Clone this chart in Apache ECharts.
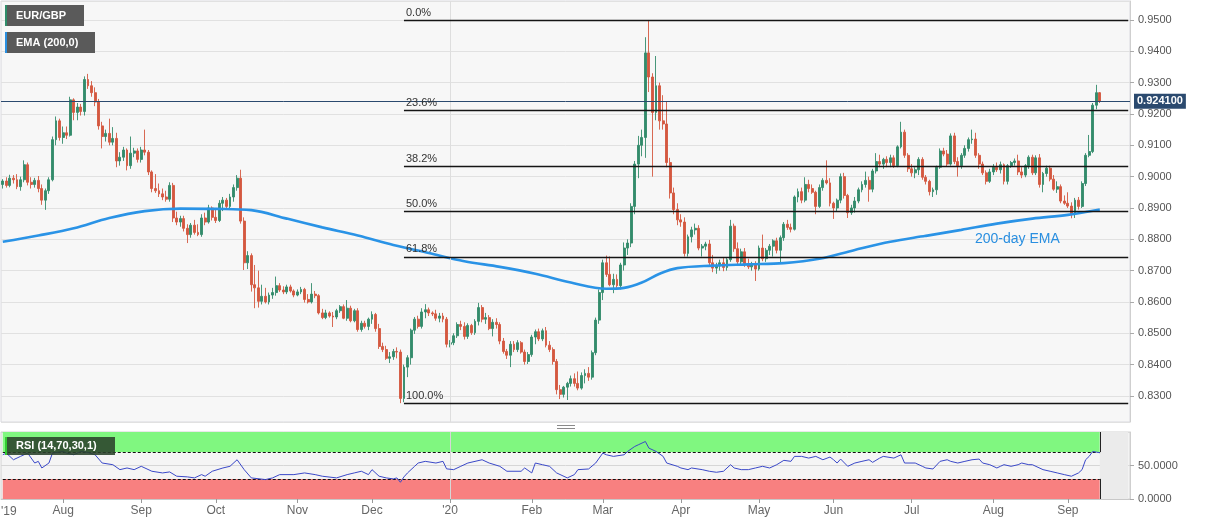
<!DOCTYPE html>
<html><head><meta charset="utf-8">
<script src="https://cdn.jsdelivr.net/npm/echarts/dist/echarts.min.js"></script>
<style>html,body{margin:0;padding:0;background:#fff}#c{width:1207px;height:526px}</style>
</head><body><div id="c"></div>
<script>
const startDate = '2019-07-09';
const futureDays = 8;
const opens = [
.8975,.8986,.8972,.8995,.8990,.8968,.8990,.9038,.8982,.8975,
.8988,.8962,.8925,.8955,.8990,.9118,.9178,.9125,.9140,.9132,
.9245,.9205,.9222,.9208,.9310,.9290,.9268,.9238,.9162,.9128,
.9138,.9110,.9122,.9050,.9062,.9085,.9035,.9075,.9082,.9055,
.9085,.9078,.9015,.8962,.8955,.8945,.8935,.8928,.8972,.8868,
.8855,.8866,.8835,.8815,.8845,.8822,.8815,.8868,.8855,.8900,
.8870,.8860,.8915,.8925,.8905,.8935,.8965,.8995,.8858,.8725,
.8748,.8655,.8645,.8602,.8618,.8600,.8622,.8630,.8652,.8638,
.8632,.8648,.8635,.8622,.8632,.8640,.8608,.8600,.8625,.8620,
.8565,.8550,.8565,.8555,.8552,.8572,.8585,.8548,.8580,.8540,
.8572,.8512,.8532,.8522,.8545,.8560,.8515,.8458,.8448,.8420,
.8425,.8442,.8440,.8292,.8392,.8422,.8510,.8545,.8522,.8568,
.8575,.8565,.8562,.8548,.8555,.8545,.8465,.8470,.8492,.8528,
.8522,.8490,.8525,.8502,.8538,.8582,.8545,.8550,.8515,.8535,
.8528,.8475,.8442,.8430,.8465,.8448,.8470,.8440,.8410,.8432,
.8488,.8505,.8482,.8508,.8462,.8448,.8410,.8320,.8305,.8328,
.8340,.8355,.8340,.8325,.8365,.8372,.8360,.8438,.8542,.8630,
.8725,.8688,.8655,.8672,.8652,.8718,.8772,.8788,.8905,.9040,
.9100,.9125,.9395,.9318,.9205,.9290,.9178,.9168,.9045,.8948,
.8895,.8862,.8855,.8755,.8808,.8830,.8835,.8772,.8778,.8785,
.8725,.8708,.8715,.8725,.8710,.8735,.8842,.8770,.8728,.8760,
.8722,.8712,.8718,.8705,.8772,.8738,.8765,.8778,.8795,.8765,
.8805,.8848,.8838,.8832,.8935,.8952,.8925,.8975,.8962,.8950,
.8905,.8965,.8988,.8980,.8915,.8900,.8925,.9000,.8940,.8885,
.8900,.8922,.8958,.8975,.8988,.8960,.9018,.9048,.9040,.9055,
.9045,.9060,.9035,.9095,.9142,.9068,.9025,.9012,.9022,.9055,
.8998,.8985,.8952,.8958,.9030,.9082,.9072,.9040,.9130,.9048,
.9035,.9068,.9090,.9118,.9120,.9068,.9040,.9012,.8985,.9015,
.9030,.9022,.9038,.8985,.9035,.9045,.9050,.9015,.9005,.9035,
.9062,.9012,.9060,.8975,.9010,.9027,.8992,.8960,.8968,.8922,
.8915,.8906,.8880,.8925,.8905,.8978,.9068,.9080,.9228,.9268];
const highs = [
.8992,.8998,.9006,.9005,.9008,.9000,.9052,.9045,.8998,.8996,
.9002,.8975,.8962,.8998,.9128,.9192,.9185,.9160,.9160,.9255,
.9250,.9235,.9232,.9320,.9328,.9305,.9285,.9248,.9175,.9150,
.9185,.9158,.9140,.9078,.9095,.9090,.9128,.9092,.9090,.9095,
.9150,.9085,.9020,.9008,.8978,.8962,.8955,.8982,.8980,.8888,
.8875,.8875,.8848,.8852,.8862,.8848,.8880,.8885,.8910,.8905,
.8895,.8925,.8935,.8932,.8945,.8975,.9005,.9022,.8870,.8762,
.8755,.8718,.8700,.8655,.8645,.8630,.8645,.8681,.8660,.8650,
.8655,.8655,.8640,.8640,.8648,.8645,.8625,.8660,.8635,.8625,
.8578,.8575,.8570,.8568,.8578,.8590,.8592,.8606,.8588,.8578,
.8580,.8540,.8540,.8550,.8570,.8565,.8530,.8470,.8460,.8440,
.8450,.8455,.8448,.8400,.8430,.8515,.8552,.8556,.8580,.8593,
.8582,.8570,.8575,.8565,.8565,.8552,.8478,.8500,.8535,.8540,
.8535,.8532,.8530,.8545,.8597,.8590,.8565,.8558,.8545,.8548,
.8535,.8485,.8450,.8475,.8475,.8478,.8475,.8448,.8440,.8495,
.8512,.8515,.8515,.8520,.8475,.8455,.8418,.8335,.8332,.8345,
.8365,.8372,.8378,.8375,.8385,.8392,.8445,.8550,.8640,.8735,
.8748,.8745,.8690,.8688,.8725,.8790,.8800,.8915,.9050,.9130,
.9150,.9445,.9500,.9330,.9385,.9300,.9260,.9240,.9060,.8965,
.8915,.8880,.8870,.8815,.8840,.8850,.8845,.8785,.8792,.8798,
.8750,.8725,.8735,.8740,.8740,.8862,.8850,.8790,.8770,.8772,
.8738,.8728,.8730,.8780,.8815,.8772,.8785,.8800,.8805,.8812,
.8855,.8862,.8850,.8940,.8962,.8965,.8998,.8990,.8975,.8955,
.8975,.8995,.9052,.8995,.8920,.8930,.9010,.9012,.8945,.8910,
.8935,.8965,.8985,.9016,.9000,.9025,.9075,.9070,.9060,.9065,
.9070,.9068,.9100,.9175,.9150,.9075,.9040,.9030,.9062,.9062,
.9005,.8990,.8965,.9035,.9090,.9092,.9085,.9138,.9140,.9062,
.9075,.9100,.9125,.9150,.9140,.9075,.9048,.9020,.9025,.9040,
.9045,.9048,.9042,.9040,.9050,.9058,.9070,.9030,.9040,.9068,
.9070,.9068,.9072,.9015,.9035,.9035,.9005,.8985,.8975,.8940,
.8950,.8918,.8932,.8935,.8985,.9075,.9133,.9235,.9293,.9270];
const lows = [
.8962,.8965,.8966,.8978,.8960,.8955,.8982,.8972,.8962,.8965,
.8950,.8910,.8894,.8945,.8985,.9100,.9115,.9105,.9120,.9128,
.9180,.9180,.9195,.9195,.9280,.9255,.9225,.9150,.9090,.9112,
.9100,.9100,.9030,.9035,.9050,.9020,.9025,.9062,.9045,.9045,
.9068,.9005,.8950,.8948,.8935,.8925,.8920,.8920,.8855,.8845,
.8840,.8825,.8788,.8805,.8815,.8810,.8808,.8845,.8850,.8860,
.8852,.8855,.8890,.8895,.8895,.8920,.8955,.8850,.8702,.8705,
.8633,.8580,.8582,.8592,.8595,.8592,.8610,.8620,.8632,.8625,
.8625,.8630,.8615,.8618,.8625,.8598,.8595,.8595,.8612,.8560,
.8545,.8545,.8550,.8520,.8545,.8565,.8545,.8540,.8535,.8535,
.8505,.8505,.8515,.8510,.8530,.8505,.8450,.8440,.8415,.8405,
.8415,.8420,.8277,.8280,.8360,.8400,.8498,.8515,.8515,.8548,
.8555,.8555,.8540,.8535,.8535,.8455,.8455,.8462,.8485,.8510,
.8480,.8482,.8495,.8495,.8525,.8535,.8530,.8510,.8490,.8515,
.8465,.8435,.8418,.8392,.8440,.8440,.8435,.8400,.8402,.8425,
.8465,.8475,.8475,.8455,.8440,.8400,.8305,.8290,.8295,.8287,
.8330,.8330,.8318,.8320,.8340,.8348,.8352,.8430,.8530,.8606,
.8680,.8650,.8628,.8645,.8640,.8700,.8750,.8775,.8880,.8995,
.9065,.9060,.9270,.9000,.9180,.9150,.9150,.9030,.8930,.8880,
.8845,.8840,.8745,.8745,.8790,.8815,.8765,.8745,.8765,.8715,
.8695,.8690,.8700,.8698,.8700,.8728,.8760,.8720,.8715,.8712,
.8705,.8700,.8667,.8700,.8730,.8728,.8750,.8745,.8755,.8722,
.8795,.8830,.8822,.8828,.8918,.8915,.8918,.8950,.8945,.8880,
.8900,.8955,.8975,.8905,.8865,.8888,.8915,.8930,.8868,.8878,
.8885,.8915,.8950,.8965,.8920,.8950,.9010,.9030,.9025,.9030,
.9030,.9028,.9030,.9090,.9060,.9015,.9000,.8995,.9005,.8990,
.8975,.8940,.8935,.8942,.9025,.9065,.9032,.9035,.9040,.9000,
.9025,.9060,.9080,.9105,.9060,.9025,.9005,.8975,.8980,.9005,
.9015,.9010,.8975,.8975,.9028,.9035,.9005,.8995,.8998,.9025,
.9005,.9005,.8965,.8950,.9000,.8985,.8955,.8948,.8915,.8910,
.8900,.8867,.8868,.8895,.8900,.8970,.9062,.9075,.9215,.9235];
const closes = [
.8986,.8972,.8995,.8990,.8968,.8990,.9038,.8982,.8975,.8988,
.8962,.8925,.8955,.8990,.9118,.9178,.9125,.9140,.9132,.9245,
.9205,.9222,.9208,.9310,.9290,.9268,.9238,.9162,.9128,.9138,
.9110,.9122,.9050,.9062,.9085,.9035,.9075,.9082,.9055,.9085,
.9078,.9015,.8962,.8955,.8945,.8935,.8928,.8972,.8868,.8855,
.8866,.8835,.8815,.8845,.8822,.8815,.8868,.8855,.8900,.8870,
.8860,.8915,.8925,.8905,.8935,.8965,.8995,.8858,.8725,.8748,
.8655,.8645,.8602,.8618,.8600,.8622,.8630,.8652,.8638,.8632,
.8648,.8635,.8622,.8632,.8640,.8608,.8600,.8625,.8620,.8565,
.8550,.8565,.8555,.8552,.8572,.8585,.8548,.8580,.8540,.8572,
.8512,.8532,.8522,.8545,.8560,.8515,.8458,.8448,.8420,.8425,
.8442,.8440,.8292,.8392,.8422,.8510,.8545,.8522,.8568,.8575,
.8565,.8562,.8548,.8555,.8545,.8465,.8470,.8492,.8528,.8522,
.8490,.8525,.8502,.8538,.8582,.8545,.8550,.8515,.8535,.8528,
.8475,.8442,.8430,.8465,.8448,.8470,.8440,.8410,.8432,.8488,
.8505,.8482,.8508,.8462,.8448,.8410,.8320,.8305,.8328,.8340,
.8355,.8340,.8325,.8365,.8372,.8360,.8438,.8542,.8630,.8725,
.8688,.8655,.8672,.8652,.8718,.8772,.8788,.8905,.9040,.9100,
.9125,.9395,.9318,.9205,.9290,.9178,.9168,.9045,.8948,.8895,
.8862,.8855,.8755,.8808,.8830,.8835,.8772,.8778,.8785,.8725,
.8708,.8715,.8725,.8710,.8735,.8842,.8770,.8728,.8760,.8722,
.8712,.8718,.8705,.8772,.8738,.8765,.8778,.8795,.8765,.8805,
.8848,.8838,.8832,.8935,.8952,.8925,.8975,.8962,.8950,.8905,
.8965,.8988,.8980,.8915,.8900,.8925,.9000,.8940,.8885,.8900,
.8922,.8958,.8975,.8988,.8960,.9018,.9048,.9040,.9055,.9045,
.9060,.9035,.9095,.9142,.9068,.9025,.9012,.9022,.9055,.8998,
.8985,.8952,.8958,.9030,.9082,.9072,.9040,.9130,.9048,.9035,
.9068,.9090,.9118,.9120,.9068,.9040,.9012,.8985,.9015,.9030,
.9022,.9038,.8985,.9035,.9045,.9050,.9015,.9005,.9035,.9062,
.9012,.9060,.8975,.9010,.9027,.8992,.8960,.8968,.8922,.8915,
.8906,.8880,.8925,.8905,.8978,.9068,.9080,.9228,.9268,.9241];

const emaIndex  = [0,10,20,30,40,50,60,70,80,90,100,110,120,130,140,150,160,170,175,180,185,190,200,210,220,230,240,250,260,270,280,290,300,309];
const emaValues = [0.8792,0.8812,0.8835,0.8868,0.8890,0.8898,0.8897,0.8893,0.8866,0.8838,0.8812,0.8782,0.8756,0.8730,0.8712,0.8690,0.8662,0.8642,0.8645,0.8662,0.8690,0.8708,0.8716,0.8720,0.8724,0.8738,0.8766,0.8792,0.8811,0.8830,0.8850,0.8866,0.8878,0.8895];

const rsiIndex = [0,1,3,5,7,9,10,11,13,14,17,18,20,22,24,26,28,31,33,35,37,39,42,45,47,49,52,54,56,57,59,62,64,66,68,70,74,76,78,82,85,88,90,94,97,99,101,103,104,106,108,110,111,112,113,114,116,117,119,122,124,125,127,129,131,135,137,140,142,146,147,149,150,152,154,156,159,161,162,165,167,169,170,172,175,176,178,179,181,182,184,186,187,190,191,193,194,197,199,201,203,205,206,208,210,212,214,216,218,220,222,223,225,227,229,231,233,234,235,236,238,240,242,244,245,247,248,251,253,254,257,259,260,262,264,266,267,269,271,273,275,276,278,280,281,282,284,286,287,289,290,293,295,297,299,301,303,304,305,306,307,308,309];
const rsiValues = [66,68.5,58.6,63.6,68.5,53.7,56.2,46.3,53.7,68.5,71,68.5,66,71,69.5,66,53.7,51.2,43.8,46.3,43.8,48.8,41.4,38.9,40.4,34,33,31.5,36.4,34,41.4,46.3,48.8,58.6,43.8,31.5,29,31.5,36.4,36.4,38.9,36.4,34,31.5,36.4,38.9,41.4,36.4,43.8,34,31.5,30,31.5,25,33,38.9,48.8,53.7,56.2,53.7,56.2,45,43.8,48.8,53.7,58.6,53.7,48.8,41.4,41.4,46.3,38.9,53.7,51.2,48.8,38.9,31.5,36.4,43.8,44.8,53.7,68.5,66,63.6,66,71,78.4,80.9,85.8,75.9,71,63.6,53.7,48.8,46.3,43.8,46.3,43.8,41.4,39.9,41.4,51.2,46.3,43.8,43.8,46.3,48.8,46.3,51.2,57.7,56.2,63.6,63.6,61.1,63.6,58.6,62.6,58.6,53.7,59.6,48.8,53.7,56.2,58.6,54.7,61.1,63.6,61.1,66,53.7,53.7,48.8,46.3,44.8,56.2,58.6,56.2,53.7,56.2,58.6,59.6,53.7,51.2,46.3,48.8,51.2,48.8,51.2,53.7,51.2,51.2,43.8,41.4,38.9,36.4,34,38.9,43.8,58.6,63.6,71,70,69];

const fibLabels = ['0.0%','23.6%','38.2%','50.0%','61.8%','100.0%'];
const fibValues = [0.9500,0.9211,0.9032,0.8888,0.8744,0.8277];
const fibStartIndex = 113;
const lastPrice = 0.9241;
const yMin = 0.82168, yMax = 0.95606;
const monthNames = ['Jan','Feb','Mar','Apr','May','Jun','Jul','Aug','Sep','Oct','Nov','Dec'];

// weekday categories
const dates = [];
(function(){
  const d = new Date(startDate + 'T12:00:00Z');
  while (dates.length < opens.length + futureDays) {
    const w = d.getUTCDay();
    if (w !== 0 && w !== 6) dates.push(d.toISOString().slice(0,10));
    d.setUTCDate(d.getUTCDate() + 1);
  }
})();
const monthStart = new Set();
for (let i = 1; i < dates.length; i++) if (dates[i].slice(5,7) !== dates[i-1].slice(5,7)) monthStart.add(i);
function monthLabel(v){ const m = +v.slice(5,7); return m === 1 ? "'" + v.slice(2,4) : monthNames[m-1]; }

const N = dates.length;
const lastIdx = opens.length - 1;
const candleData = opens.map((o,i)=>[o, closes[i], lows[i], highs[i]]);
const emaData = new Array(N).fill(null);
emaIndex.forEach((ix,k)=>{ emaData[ix] = emaValues[k]; });
const rsiData = new Array(N).fill(null);
rsiIndex.forEach((ix,k)=>{ rsiData[ix] = rsiValues[k]; });

const fibLines = fibValues.map((v,k)=>[
  {name: fibLabels[k], coord:[dates[fibStartIndex], v]},
  {coord:[dates[N-1], v]}
]);

const FONT = '"Liberation Sans", Arial, sans-serif';
const chart = echarts.init(document.getElementById('c'));
chart.setOption({
  animation:false,
  backgroundColor:'#ffffff',
  textStyle:{fontFamily:FONT},
  grid:[
    {left:1, right:77, top:1, height:421, show:true, backgroundColor:'#f7f7f7', borderColor:'#d8d8de', borderWidth:1, outerBoundsMode:'none'},
    {left:1, right:77, top:432, height:67, show:true, backgroundColor:'#f5f5f5', borderColor:'#d2d2d2', borderWidth:1, outerBoundsMode:'none'}
  ],
  xAxis:[
    {type:'category', gridIndex:0, data:dates, boundaryGap:true, axisLine:{show:false}, axisTick:{show:false}, axisLabel:{show:false}, splitLine:{show:false}},
    {type:'category', gridIndex:1, data:dates, boundaryGap:true,
     axisLine:{show:true, lineStyle:{color:'#c8c8c8'}},
     axisTick:{show:true, alignWithLabel:true, interval:(i)=>monthStart.has(i), length:4, lineStyle:{color:'#999'}},
     axisLabel:{interval:(i)=>monthStart.has(i), formatter:monthLabel, color:'#666', fontSize:12, margin:6, fontFamily:FONT},
     splitLine:{show:false}}
  ],
  yAxis:[
    {type:'value', gridIndex:0, position:'right', min:yMin, max:yMax, splitNumber:13,
     axisLine:{show:true, lineStyle:{color:'#cfcfcf'}},
     axisTick:{show:true, length:4, lineStyle:{color:'#aaa'}},
     axisLabel:{color:'#555', fontSize:11, margin:8, fontFamily:FONT, formatter:v=>v.toFixed(4), showMinLabel:false, showMaxLabel:false},
     splitLine:{show:true, lineStyle:{color:'#e1e1e1', width:1}}},
    {type:'value', gridIndex:1, position:'right', min:0, max:100, interval:50,
     axisLine:{show:true, lineStyle:{color:'#cfcfcf'}},
     axisTick:{show:true, length:4, lineStyle:{color:'#aaa'}},
     axisLabel:{color:'#555', fontSize:11, margin:8, fontFamily:FONT, formatter:v=>v.toFixed(4), showMaxLabel:false},
     splitLine:{show:true, lineStyle:{color:'#d6d6d6'}}}
  ],
  series:[
    {type:'candlestick', name:'EUR/GBP', xAxisIndex:0, yAxisIndex:0, data:candleData, barWidth:2.4,
     itemStyle:{color:'#338b6b', color0:'#d4583f', borderColor:'#338b6b', borderColor0:'#d4583f', borderWidth:0.9},
     markLine:{symbol:['none','none'], silent:true, animation:false, precision:4,
       data:[
         {xAxis:'2020-01-01', lineStyle:{color:'#dedede', width:1, type:'solid'}, label:{show:false}},
         ...fibLines.map(p=>[Object.assign({}, p[0], {
            lineStyle:{color:'#151515', width:1.3, type:'solid'},
            label:{show:true, position:'insideStartTop', formatter:'{b}', color:'#333', fontSize:11, distance:2, fontFamily:FONT}
          }), p[1]]),
         {yAxis:lastPrice, lineStyle:{color:'#2b4a6f', width:1, type:'solid'},
          label:{show:true, position:'end', formatter:lastPrice.toFixed(6), color:'#fff', backgroundColor:'#2b4a6f',
                 padding:[2,3,2,3], fontWeight:'bold', fontSize:11, distance:4, fontFamily:FONT}}
       ]}
    },
    {type:'line', name:'EMA', xAxisIndex:0, yAxisIndex:0, data:emaData, connectNulls:true, smooth:0.35,
     showSymbol:false, symbol:'none', lineStyle:{color:'#2a93e6', width:2.6}, z:3},
    {type:'line', name:'RSI', xAxisIndex:1, yAxisIndex:1, data:rsiData, connectNulls:true, smooth:false,
     showSymbol:false, symbol:'none', lineStyle:{color:'#3a48c8', width:1}, z:5,
     markArea:{silent:true, data:[
       [{xAxis:dates[0], yAxis:70, itemStyle:{color:'#80f780'}}, {xAxis:dates[lastIdx], yAxis:100}],
       [{xAxis:dates[0], yAxis:0, itemStyle:{color:'#f88080'}}, {xAxis:dates[lastIdx], yAxis:30}],
       [{xAxis:dates[lastIdx], yAxis:0, itemStyle:{color:'#ebebeb'}}, {xAxis:dates[N-1], yAxis:100}]
     ]},
     markLine:{symbol:['none','none'], silent:true, label:{show:false},
       data:[
         [{coord:[dates[0],70], lineStyle:{color:'#111', width:1, type:[3,2]}}, {coord:[dates[lastIdx],70]}],
         [{coord:[dates[0],30], lineStyle:{color:'#111', width:1, type:[3,2]}}, {coord:[dates[lastIdx],30]}],
         [{coord:[dates[lastIdx],70], lineStyle:{color:'#222', width:1, type:'solid'}}, {coord:[dates[lastIdx],100]}],
         [{coord:[dates[lastIdx],0], lineStyle:{color:'#222', width:1, type:'solid'}}, {coord:[dates[lastIdx],30]}],
         {xAxis:'2020-01-01', lineStyle:{color:'#d6d6d6', width:1, type:'solid'}}
       ]}
    }
  ],
  graphic:[
    {type:'rect', shape:{x:5,y:5,width:79,height:21}, style:{fill:'#5a5a5a'}, z:100},
    {type:'rect', shape:{x:5,y:5,width:2,height:21}, style:{fill:'#2f8d6a'}, z:101},
    {type:'text', x:16, y:15.5, style:{text:'EUR/GBP', fill:'#fff', font:'bold 11px ' + FONT, verticalAlign:'middle'}, z:102},
    {type:'rect', shape:{x:5,y:32,width:90,height:21}, style:{fill:'#5a5a5a'}, z:100},
    {type:'rect', shape:{x:5,y:32,width:2,height:21}, style:{fill:'#2a8fe0'}, z:101},
    {type:'text', x:16, y:42.5, style:{text:'EMA (200,0)', fill:'#fff', font:'bold 11px ' + FONT, verticalAlign:'middle'}, z:102},
    {type:'rect', shape:{x:5,y:437,width:110,height:18}, style:{fill:'rgba(42,66,42,0.88)'}, z:100},
    {type:'rect', shape:{x:5,y:437,width:2,height:18}, style:{fill:'#33cc33'}, z:101},
    {type:'text', x:16, y:446, style:{text:'RSI (14,70,30,1)', fill:'#fff', font:'bold 11px ' + FONT, verticalAlign:'middle'}, z:102},
    {type:'text', x:975, y:239, style:{text:'200-day EMA', fill:'#2a8fe0', font:'14px ' + FONT, verticalAlign:'middle'}, z:50},
    {type:'text', x:1, y:512, style:{text:"'19", fill:'#666', font:'12px ' + FONT, verticalAlign:'middle'}, z:50},
    {type:'line', shape:{x1:557,y1:425.5,x2:575,y2:425.5}, style:{stroke:'#8a8a8a', lineWidth:1}, z:50},
    {type:'line', shape:{x1:557,y1:428.5,x2:575,y2:428.5}, style:{stroke:'#8a8a8a', lineWidth:1}, z:50}
  ]
});
</script>
</body></html>
